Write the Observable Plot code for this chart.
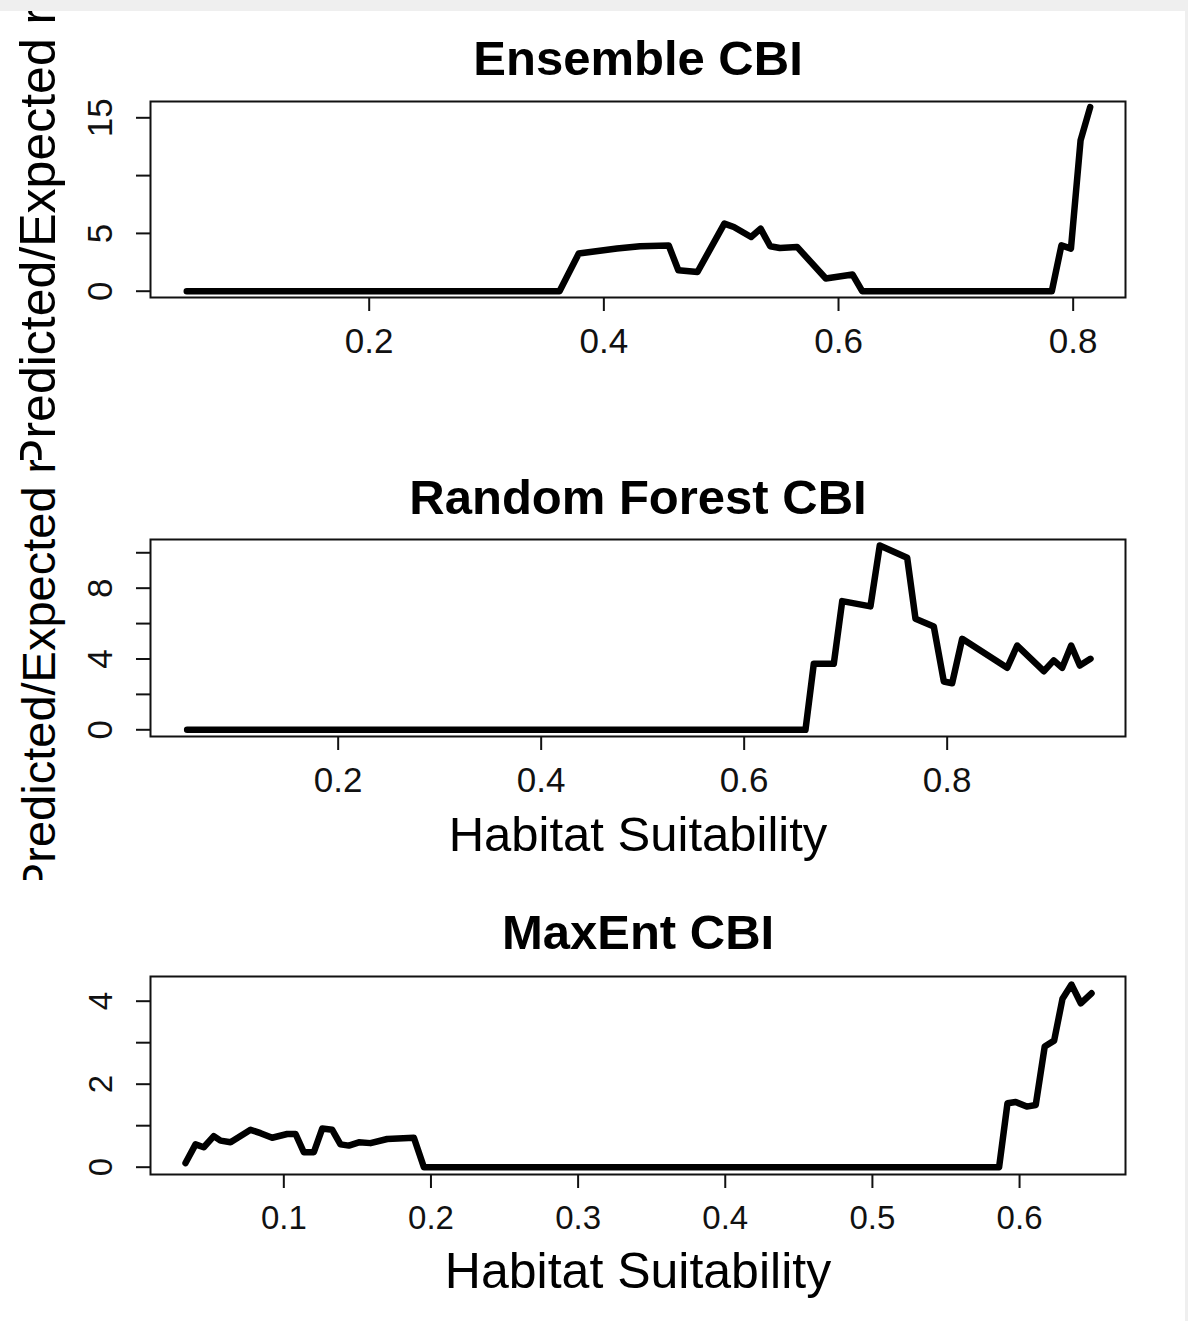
<!DOCTYPE html>
<html>
<head>
<meta charset="utf-8">
<script src="https://cdn.jsdelivr.net/npm/d3@7"></script>
<script src="https://cdn.jsdelivr.net/npm/@observablehq/plot@0.6"></script>
<style>
  html, body { margin: 0; padding: 0; background: #fff; }
  #page { position: relative; width: 1188px; height: 1321px; background: #fff; overflow: hidden; }
  #topband { position: absolute; left: 0; top: 0; width: 1188px; height: 11px; background: #efefef; }
  #rightband { position: absolute; left: 1185px; top: 11px; width: 3px; height: 1310px; background: #efefef; }
  .panel { position: absolute; left: 0; width: 1185px; overflow: hidden; }
</style>
</head>
<body>
<div id="page">
  <div id="topband"></div>
  <div id="rightband"></div>
  <div class="panel" id="p1" style="top:11px;height:449px"></div>
  <div class="panel" id="p2" style="top:460px;height:420px"></div>
  <div class="panel" id="p3" style="top:880px;height:441px"></div>
</div>
<script>
// Predicted/expected ratio curves against habitat suitability, one per model.

const ensembleX = [0.0445, 0.3622, 0.3786, 0.4112, 0.4308, 0.4553, 0.4635, 0.4798, 0.5027, 0.5108, 0.5255, 0.5336,
                   0.5418, 0.5500, 0.5647, 0.5892, 0.6120, 0.6202, 0.7818, 0.7900, 0.7981, 0.8063, 0.8145];
const ensembleY = [0, 0, 3.26, 3.69, 3.89, 3.95, 1.81, 1.66, 5.85, 5.55, 4.69, 5.41,
                   3.89, 3.74, 3.83, 1.10, 1.44, 0, 0, 3.97, 3.69, 13.04, 15.92];

const forestX = [0.0512, 0.6604, 0.6686, 0.6883, 0.6966, 0.7244, 0.7336, 0.7606, 0.7688, 0.7868, 0.7967,
                 0.8049, 0.8148, 0.8591, 0.8690, 0.8952, 0.9050, 0.9133, 0.9222, 0.9307, 0.9412];
const forestY = [0, 0, 3.73, 3.73, 7.27, 6.97, 10.41, 9.72, 6.27, 5.84, 2.73,
                 2.63, 5.14, 3.50, 4.76, 3.31, 3.92, 3.50, 4.76, 3.63, 4.01];

const maxentX = [0.0332, 0.0400, 0.0456, 0.0524, 0.0570, 0.0638, 0.0774, 0.0842, 0.0921, 0.1023, 0.1080,
                 0.1136, 0.1204, 0.1261, 0.1329, 0.1385, 0.1442, 0.1510, 0.1589, 0.1703, 0.1884, 0.1952,
                 0.5861, 0.5918, 0.5974, 0.6049, 0.6110, 0.6171, 0.6235, 0.6292, 0.6353, 0.6416, 0.6489];
const maxentY = [0.10, 0.55, 0.48, 0.75, 0.64, 0.60, 0.90, 0.82, 0.71, 0.80, 0.80,
                 0.36, 0.36, 0.93, 0.90, 0.55, 0.52, 0.60, 0.58, 0.68, 0.71, 0,
                 0, 1.54, 1.57, 1.46, 1.50, 2.91, 3.05, 4.06, 4.40, 3.95, 4.19];

const panelTitles = ["Ensemble CBI", "Random Forest CBI", "MaxEnt CBI"];
const yLabel = "Predicted/Expected ratio";
const xLabel = "Habitat Suitability";

const ensembleXTicks = [0.2, 0.4, 0.6, 0.8];
const forestXTicks = [0.2, 0.4, 0.6, 0.8];
const maxentXTicks = [0.1, 0.2, 0.3, 0.4, 0.5, 0.6];

const ensembleYTicks = [0, 5, 10, 15];
const ensembleYLabels = [0, 5, 15];
const forestYTicks = [0, 2, 4, 6, 8, 10];
const forestYLabels = [0, 4, 8];
const maxentYTicks = [0, 1, 2, 3, 4];
const maxentYLabels = [0, 2, 4];

const FONT = "'Liberation Sans', Arial, Helvetica, sans-serif";

function panel({xs, ys, title, xDomain, yDomain, xTicks, yTicks, yShown, height, marginTop, marginBottom,
                titleDy, yLabelFont, showXLabel, xLabelDy, tickFont, xLabelFont}) {
  const rows = xs.map((x, i) => ({x, y: ys[i]}));
  const marks = [
    Plot.frame({strokeWidth: 2}),
    Plot.axisX({ticks: xTicks, tickSize: 14, tickPadding: 17, strokeWidth: 2,
                tickFormat: d3.format(".1f"), label: null, fontSize: tickFont}),
    Plot.axisY({ticks: yTicks, tickSize: 14, tickPadding: 25, tickRotate: -90, strokeWidth: 2,
                textAnchor: "middle", lineAnchor: "bottom",
                tickFormat: d => yShown.includes(d) ? String(d) : "", label: null, fontSize: tickFont}),
    Plot.line(rows, {x: "x", y: "y", stroke: "#000", strokeWidth: 6.5,
                     strokeLinejoin: "round", strokeLinecap: "round"}),
    Plot.text([title], {text: d => d, frameAnchor: "top", lineAnchor: "bottom", dy: titleDy,
                        fontSize: 49, fontWeight: "bold", fill: "#000"})
  ];
  if (yLabelFont) {
    // the rotated y title is centred on the panel and runs past the panel's edges
    marks.push(Plot.text([yLabel], {text: d => d, frameAnchor: "left", rotate: -90, textAnchor: "middle",
                                    lineAnchor: "bottom", dx: -96, fontSize: yLabelFont, fill: "#000"}));
  }
  if (showXLabel) {
    marks.push(Plot.text([xLabel], {text: d => d, frameAnchor: "bottom", lineAnchor: "bottom", dy: xLabelDy,
                                    fontSize: xLabelFont, fill: "#000"}));
  }
  return Plot.plot({
    width: 1185,
    height,
    marginLeft: 150,
    marginRight: 60,
    marginTop,
    marginBottom,
    x: {domain: xDomain},
    y: {domain: yDomain},
    style: {fontFamily: FONT, fontSize: "35px", color: "#111", background: "transparent", overflow: "hidden"},
    marks
  });
}

document.getElementById("p1").append(panel({
  xs: ensembleX, ys: ensembleY, title: panelTitles[0],
  xDomain: [0.0136, 0.8446], yDomain: [-0.544, 16.41],
  xTicks: ensembleXTicks, yTicks: ensembleYTicks, yShown: ensembleYLabels,
  height: 449, marginTop: 90, marginBottom: 163, titleDy: -27,
  yLabelFont: 50, showXLabel: false, tickFont: 35
}));

document.getElementById("p2").append(panel({
  xs: forestX, ys: forestY, title: panelTitles[1],
  xDomain: [0.0151, 0.9757], yDomain: [-0.379, 10.75],
  xTicks: forestXTicks, yTicks: forestYTicks, yShown: forestYLabels,
  height: 420, marginTop: 79, marginBottom: 144, titleDy: -26,
  yLabelFont: 47, showXLabel: true, xLabelDy: 114, tickFont: 35, xLabelFont: 49
}));

document.getElementById("p3").append(panel({
  xs: maxentX, ys: maxentY, title: panelTitles[2],
  xDomain: [0.0094, 0.672], yDomain: [-0.176, 4.595],
  xTicks: maxentXTicks, yTicks: maxentYTicks, yShown: maxentYLabels,
  height: 441, marginTop: 96, marginBottom: 147, titleDy: -28,
  yLabelFont: 0, showXLabel: true, xLabelDy: 113, tickFont: 33, xLabelFont: 50
}));
</script>
</body>
</html>
